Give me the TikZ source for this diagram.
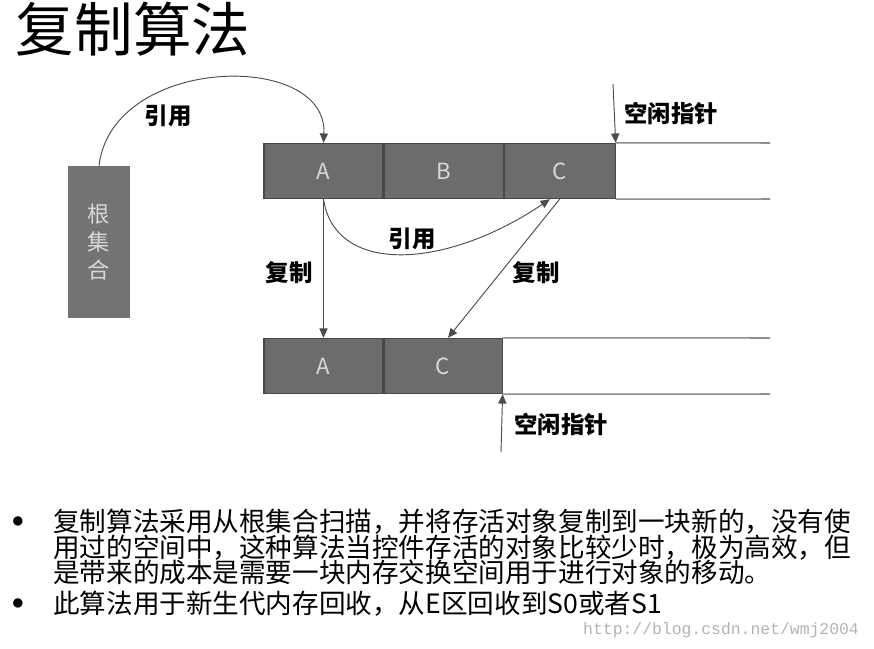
\documentclass[tikz,border=0pt]{standalone}
\usepackage{fontspec}
\setmainfont{Noto Sans CJK SC}
\newfontfamily\wmfont{Liberation Mono}
\usepackage{xcolor}
\usepackage{tikz}
\usetikzlibrary{arrows.meta, positioning}

\definecolor{cellgray}{HTML}{6C6C6E}
\definecolor{edgegray}{HTML}{484848}
\definecolor{textgray}{HTML}{D8D8D8}
\definecolor{heapgray}{HTML}{8E8E8E}
\newcommand\notefont{\fontsize{22.7}{21.8}\selectfont\lineskiplimit=-30pt\relax}

\begin{document}
\begin{tikzpicture}[
    x=0.03cm, y=-0.03cm,
    cell/.style={draw=edgegray, fill=cellgray, text=textgray, line width=0.9pt, minimum width=3.57cm, minimum height=1.66cm, inner sep=0pt, font=\fontsize{19}{22}\selectfont},
    rootbox/.style={fill=cellgray!95, text=textgray, minimum width=1.85cm, minimum height=4.56cm, inner sep=0pt, align=center, font=\fontsize{19}{23.5}\selectfont},
    lbl/.style={inner sep=1pt, font=\fontsize{20}{24}\selectfont\bfseries},
    line/.style={-{Triangle[length=8pt, width=7pt]}, draw=black!70, line width=0.8pt},
    heap/.style={draw=heapgray, line width=1.3pt},
    body/.style={anchor=west, align=left, inner sep=0pt, font=\notefont}
]
\useasboundingbox (0,0) rectangle (874,649);

% Title
\node[inner sep=0pt, font=\fontsize{50}{56}\selectfont] (title) at (133,29) {复制算法};

% Root set
\node[rootbox] (root) at (99,242) {根\\集\\合};

% From space
\node[cell] (topA) at (323.5,171) {A};
\node[cell, right=0pt of topA] (topB) {B};
\node[cell, minimum width=3.33cm, right=0pt of topB] (topC) {C};

% To space
\node[cell] (botA) at (323.5,366) {A};
\node[cell, minimum width=3.54cm, right=0pt of botA] (botC) {C};

% Free space
\coordinate (topEndN) at (770,143);
\coordinate (topEndS) at (770,199);
\coordinate (botEndN) at (770,338);
\coordinate (botEndS) at (770,394);
\draw[heap] (topC.north east) -- (topEndN);
\draw[heap] (topC.south east) -- (topEndS);
\draw[heap] (botC.north east) -- (botEndN);
\draw[heap] (botC.south east) -- (botEndS);

% Free pointers
\coordinate (ptrTop) at (613,84);
\coordinate (ptrBot) at (501,452);
\draw[line] (ptrTop) -- (topC.north east);
\draw[line] (ptrBot) -- (botC.south east);
\node[lbl, anchor=west] (freeTop) at (623,114) {空闲指针};
\node[lbl, anchor=west] (freeBot) at (513,425) {空闲指针};

% References
\draw[line] (root.north) .. controls (112,55) and (328,50) .. (topA.north);
\draw[line] (topA.south) .. controls (335,275) and (445,270) .. (topC.-109);
\node[lbl] (refRoot) at (168,116) {引用};
\node[lbl] (refA) at (412,239) {引用};

% Copies
\draw[line] (topA.south) -- (botA.north);
\draw[line] (topC.south) -- (botC.80);
\node[lbl] (copyA) at (289,273) {复制};
\node[lbl] (copyC) at (536,273) {复制};

% Notes
\node[font=\fontsize{20}{22}\selectfont] (dot1) at (18,522) {$\bullet$};
\node[body] (note1) at (53,547) {复制算法采用从根集合扫描，并将存活对象复制到一块新的，没有使\\用过的空间中，这种算法当控件存活的对象比较少时，极为高效，但\\是带来的成本是需要一块内存交换空间用于进行对象的移动。};
\node[font=\fontsize{20}{22}\selectfont] (dot2) at (18,604) {$\bullet$};
\node[body] (note2) at (53,604) {此算法用于新生代内存回收，从E区回收到S0或者S1};

% Watermark
\node[anchor=west, inner sep=0pt, text=black!30, font=\wmfont\fontsize{14}{16}\selectfont] (mark) at (583,630) {http://blog.csdn.net/wmj2004};

\end{tikzpicture}
\end{document}
